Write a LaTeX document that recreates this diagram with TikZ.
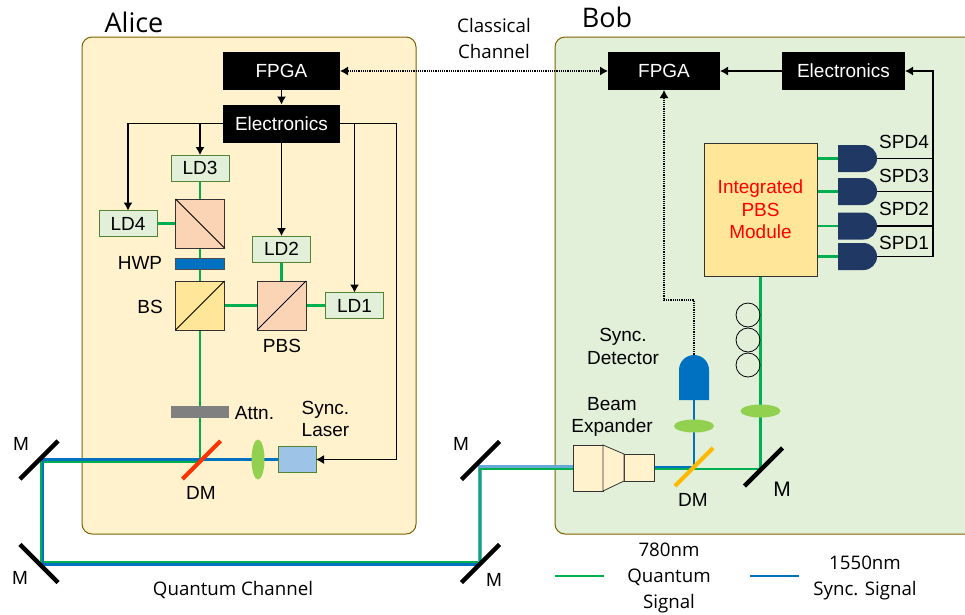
\documentclass[tikz,border=0pt]{standalone}
\usepackage{fontspec}
\setmainfont{Liberation Sans}
\newfontfamily\opensans{Open Sans}
\usetikzlibrary{arrows.meta, positioning, backgrounds, shapes.geometric, shapes.misc}

\definecolor{alicefill}{HTML}{FFF2CC}
\definecolor{bobfill}{HTML}{E2F0D9}
\definecolor{boxline}{HTML}{7F6000}
\definecolor{ldline}{HTML}{548235}
\definecolor{quantumgreen}{HTML}{00B050}
\definecolor{syncblue}{HTML}{0070C0}
\definecolor{pbsfill}{HTML}{FBD3B5}
\definecolor{bsfill}{HTML}{FFE699}
\definecolor{lensgreen}{HTML}{92D050}
\definecolor{spdblue}{HTML}{1F3864}
\definecolor{laserblue}{HTML}{9DC3E6}
\definecolor{dmred}{HTML}{FF3300}
\definecolor{dmorange}{HTML}{FFB800}

\begin{document}
\begin{tikzpicture}[
    x=1pt, y=-1pt,
    every node/.style={font=\fontsize{19}{22.5}\selectfont, inner sep=0pt, outer sep=0pt},
    blackbox/.style={rectangle, fill=black, text=white, minimum width=117pt, minimum height=38pt},
    ldbox/.style={rectangle, draw=ldline, fill=bobfill, line width=0.8pt, minimum width=58pt, minimum height=26pt},
    cube/.style={rectangle, draw=black!80, line width=0.8pt, minimum size=49pt},
    lens/.style={ellipse, fill=lensgreen, minimum width=40pt, minimum height=13pt},
    mirror/.style={rectangle, fill=black, minimum width=54pt, minimum height=4.5pt},
    dichroic/.style={rectangle, minimum width=54pt, minimum height=4pt, rotate=45},
    gate/.style={rounded rectangle, rounded rectangle west arc=none},
    spd/.style={gate, fill=spdblue, minimum width=39pt, minimum height=27pt},
    coil/.style={circle, draw=black, line width=0.8pt, minimum size=24pt},
    chan/.style={font=\opensans\fontsize{18.7}{26}\selectfont, align=center},
    title/.style={font=\opensans\fontsize{27}{30}\selectfont},
    arrow/.style={-{Latex[length=8pt,width=9pt]}, line width=1.2pt},
    dotarrow/.style={{Latex[length=8pt,width=9pt]}-, line width=1.2pt, densely dotted},
    quantum/.style={quantumgreen, line width=2.2pt},
    sync/.style={syncblue, line width=2.6pt}
]

\useasboundingbox (0,0) rectangle (965,614);

% Alice
\node[blackbox] (fpgaA) at (281.5,71) {FPGA};
\node[blackbox] (elecA) at (281.5,123.5) {Electronics};
\node[ldbox] (ldthree) at (200,168) {LD3};
\node[ldbox] (ldfour) at (128,223.5) {LD4};
\node[ldbox] (ldtwo) at (281.5,249) {LD2};
\node[ldbox] (ldone) at (354.5,305.5) {LD1};
\node[cube, fill=pbsfill] (cubetop) at (200,223.5) {};
\node[rectangle, fill=syncblue, draw=black!70, minimum width=49pt, minimum height=10.5pt] (hwp) at (200,263.5) {};
\node[cube, fill=bsfill] (bs) at (200,305.5) {};
\node[cube, fill=pbsfill] (pbs) at (281.5,305.5) {};
\node[rectangle, fill=black!50, minimum width=58pt, minimum height=12pt] (attn) at (200,412) {};
\node[dichroic, fill=dmred] (dmA) at (201.5,460) {};
\node[lens, minimum width=13pt, minimum height=40pt] (lensA) at (258,459.5) {};
\node[rectangle, fill=laserblue, draw=ldline, line width=0.8pt, minimum width=38pt, minimum height=26pt] (laser) at (297,459.5) {};
\coordinate (laserdrop) at (396.5,300);

\node at (140,263) {HWP};
\node at (150,307) {BS};
\node at (282,346) {PBS};
\node at (254.5,413) {Attn.};
\node at (201,493) {DM};
\node[align=left] at (325.5,419) {Sync.\\Laser};
\node[title] at (134,22) {Alice};

% free space path
\node[mirror, rotate=45] (mTL) at (39,460) {};
\node[mirror, rotate=-45] (mBL) at (39,563.5) {};
\node[mirror, rotate=45] (mBR) at (480.5,563.5) {};
\node[mirror, rotate=45] (mTR) at (480.5,460.5) {};
\node at (21,444) {M};
\node at (20,578) {M};
\node at (461,444) {M};
\node at (494,580) {M};
\node[chan] at (233,590) {Quantum Channel};
\node[chan] at (494,38) {Classical\\Channel};
\coordinate (greenTL) at (41,461.5);
\coordinate (greenBL) at (41,562.5);
\coordinate (greenBR) at (480,562.5);
\coordinate (greenTR) at (480,469);
\coordinate (greenM) at (760.5,469);
\coordinate (blueTL) at (43,459.5);
\coordinate (blueBL) at (43,564.5);
\coordinate (blueBR) at (480,564.5);
\coordinate (blueTR) at (480,467);
\coordinate (blueD) at (694,467);

% Bob
\node[blackbox, minimum width=112pt] (fpgaB) at (664,71) {FPGA};
\node[blackbox, minimum width=123pt] (elecB) at (843.5,71) {Electronics};
\node[rectangle, draw=black!80, fill=bsfill, line width=0.8pt, minimum width=113pt, minimum height=133pt, text=red, align=center] (pbsmodule) at (760.5,209.5) {\raisebox{-1pt}{Integrated}\\\raisebox{-1pt}{PBS}\\\raisebox{-1pt}{Module}};
\node[spd] (spdfour) at (857.5,158.5) {};
\node[spd] (spdthree) at (857.5,191.5) {};
\node[spd] (spdtwo) at (857.5,226) {};
\node[spd] (spdone) at (857.5,256.5) {};
\node at (904,142) {SPD4};
\node at (904,176) {SPD3};
\node at (904,209) {SPD2};
\node at (904,243) {SPD1};
\coordinate (busbot) at (933,256.5);
\coordinate (bustop) at (933,71);
\node[coil] (coilone) at (748,315) {};
\node[coil] (coiltwo) at (748,340) {};
\node[coil] (coilthree) at (748,365) {};
\node[lens] (lensQ) at (760.5,411) {};
\node[lens] (lensS) at (694,426) {};
\node[gate, rotate=90, fill=syncblue, minimum width=45pt, minimum height=30pt] (syncdet) at (694,377.5) {};
\coordinate (syncturn) at (664,300);
\node[dichroic, fill=dmorange] (dmB) at (694,467) {};
\node[mirror, rotate=45] (mB) at (763.5,467) {};
\node[rectangle, draw=black!80, fill=alicefill, line width=0.8pt, minimum width=30pt, minimum height=46pt] (bexbig) at (588,468) {};
\node[rectangle, draw=black!80, fill=alicefill, line width=0.8pt, minimum width=30pt, minimum height=27pt] (bexsmall) at (639,467.5) {};
\draw[black!80, fill=alicefill, line width=0.8pt] (bexbig.north east) -- (bexsmall.north west) -- (bexsmall.south west) -- (bexbig.south east) -- cycle;

\node[align=center] at (623,346.5) {Sync.\\Detector};
\node[align=center] at (612,417) {Beam\\Expander};
\node at (693,500) {DM};
\node[font=\fontsize{21}{24}\selectfont] at (782,489) {M};
\node[title] at (607,17) {Bob};

% legend
\coordinate (greenA) at (555,576);
\coordinate (greenB) at (604,576);
\coordinate (blueA) at (750,576);
\coordinate (blueB) at (799,576);
\node[chan] at (669,578) {780nm\\Quantum\\Signal};
\node[chan] at (865,578) {1550nm\\Sync. Signal};
\draw[quantum, line width=2.8pt] (greenA) -- (greenB);
\draw[sync, line width=2.8pt] (blueA) -- (blueB);

% control lines
\draw[arrow] (fpgaA) -- (elecA);
\draw[arrow] (elecA.west) -| (ldfour.north);
\draw[arrow] (elecA.west) -| (ldthree.north);
\draw[arrow] (elecA.south) -- (ldtwo.north);
\draw[arrow] (elecA.east) -| (ldone.north);
\draw[arrow] (elecA.east) -| (laserdrop) |- (laser.east);
\draw[arrow] (elecB) -- (fpgaB);
\draw[arrow] (spdone.east) -- (busbot) -- (bustop) -- (elecB.east);
\draw[line width=1.2pt] (spdfour.east) -- (spdfour.east -| busbot);
\draw[line width=1.2pt] (spdthree.east) -- (spdthree.east -| busbot);
\draw[line width=1.2pt] (spdtwo.east) -- (spdtwo.east -| busbot);
\draw[dotarrow, {Latex[length=8pt,width=9pt]}-{Latex[length=8pt,width=9pt]}] (fpgaA.east) -- (fpgaB.west);
\draw[dotarrow] (fpgaB.south) -- (syncturn) -| (syncdet.east);

% cube diagonals
\draw[line width=0.8pt] (cubetop.north west) -- (cubetop.south east);
\draw[line width=0.8pt] (bs.south west) -- (bs.north east);
\draw[line width=0.8pt] (pbs.south west) -- (pbs.north east);

\begin{scope}[on background layer]
\draw[rounded corners=10pt, draw=boxline, fill=alicefill, line width=1pt] (82,37) rectangle (416,534);
\fill[bobfill, rounded corners=10pt] (975,37) -- (555,37) -- (555,534) -- (975,534) -- cycle;
\draw[rounded corners=10pt, draw=boxline, line width=1pt] (975,37) -- (555,37) -- (555,534) -- (975,534);

% 780nm path
\draw[quantum] (ldthree) -- (cubetop);
\draw[quantum] (ldfour) -- (cubetop);
\draw[quantum] (cubetop) -- (hwp);
\draw[quantum] (hwp) -- (bs);
\draw[quantum] (ldtwo) -- (pbs);
\draw[quantum] (bs) -- (pbs);
\draw[quantum] (pbs) -- (ldone);
\draw[quantum] (bs) -- (attn);
\draw[quantum] (attn.south) -- (attn.south |- dmA);
\draw[quantum] (attn.south |- greenTL) -- (greenTL) -- (greenBL) -- (greenBR);
\draw[quantum] (bexsmall.east |- greenM) -- (greenM) -- (pbsmodule.south);
\draw[quantum] (pbsmodule.east |- spdfour.west) -- (spdfour.west);
\draw[quantum] (pbsmodule.east |- spdthree.west) -- (spdthree.west);
\draw[quantum] (pbsmodule.east |- spdtwo.west) -- (spdtwo.west);
\draw[quantum] (pbsmodule.east |- spdone.west) -- (spdone.west);

% 1550nm path
\draw[sync] (laser.west) -- (blueTL) -- (blueBL) -- (blueBR);
\draw[syncblue!60, line width=3.8pt] (blueBR) -- (blueTR) -- (bexbig.west |- blueTR);
\draw[quantum, line width=1.6pt] (greenBR) -- (greenTR) -- (bexbig.west |- greenTR);
\draw[sync, line width=2.2pt] (bexsmall.east |- blueD) -- (blueD) -- (syncdet.west);
\end{scope}

\end{tikzpicture}
\end{document}
